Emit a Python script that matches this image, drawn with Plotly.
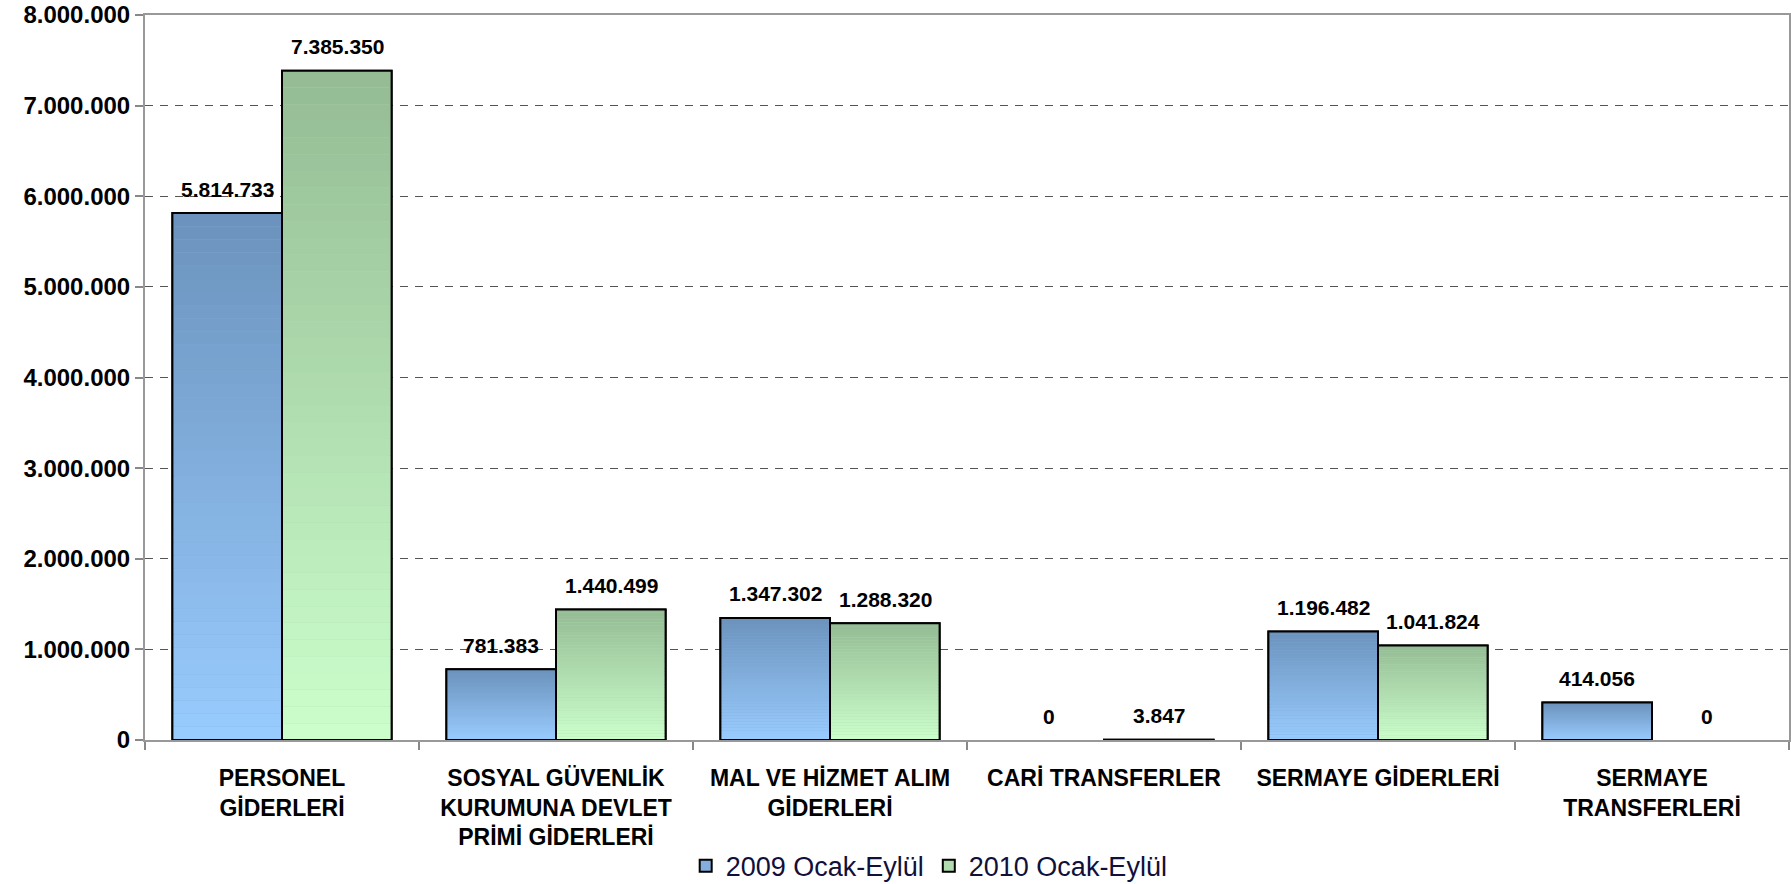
import plotly.graph_objects as go

categories = [
    "PERSONEL<br>GİDERLERİ",
    "SOSYAL GÜVENLİK<br>KURUMUNA DEVLET<br>PRİMİ GİDERLERİ",
    "MAL VE HİZMET ALIM<br>GİDERLERİ",
    "CARİ TRANSFERLER",
    "SERMAYE GİDERLERİ",
    "SERMAYE<br>TRANSFERLERİ",
]
values_2009 = [5814733, 781383, 1347302, 0, 1196482, 414056]
values_2010 = [7385350, 1440499, 1288320, 3847, 1041824, 0]
labels_2009 = ["5.814.733", "781.383", "1.347.302", "0", "1.196.482", "414.056"]
labels_2010 = ["7.385.350", "1.440.499", "1.288.320", "3.847", "1.041.824", "0"]
series_names = ["2009 Ocak-Eylül", "2010 Ocak-Eylül"]
y_ticks = [0, 1000000, 2000000, 3000000, 4000000, 5000000, 6000000, 7000000, 8000000]
y_tick_text = ["0", "1.000.000", "2.000.000", "3.000.000", "4.000.000",
               "5.000.000", "6.000.000", "7.000.000", "8.000.000"]

FONT = "Arial, Liberation Sans, sans-serif"
N_SEG = 40
BAR_W = 0.4

styles = [
    dict(values=values_2009, labels=labels_2009, name=series_names[0], offset=-BAR_W,
         top=(0x6b, 0x92, 0xbc), bottom=(0x99, 0xcc, 0xff), mid="#84aedd", xshift=-55),
    dict(values=values_2010, labels=labels_2010, name=series_names[1], offset=0.0,
         top=(0x94, 0xbb, 0x94), bottom=(0xcc, 0xff, 0xcc), mid="#b0dcb0", xshift=55),
]


def mix(a, b, t):
    return "rgb(%d,%d,%d)" % tuple(round(a[i] + (b[i] - a[i]) * t) for i in range(3))


fig = go.Figure()

for s in styles:
    vals = s["values"]
    # base trace (legend swatch + outline underneath)
    fig.add_trace(go.Bar(
        x=categories, y=[v if v != 0 else None for v in vals], name=s["name"],
        width=BAR_W, offset=s["offset"],
        marker=dict(color=s["mid"], line=dict(color="#000000", width=2)),
        hoverinfo="skip", showlegend=True,
    ))
    # vertical gradient made of stacked slices of each bar
    for k in range(N_SEG):
        t = 1 - (k + 0.5) / N_SEG  # bottom light -> top dark
        fig.add_trace(go.Bar(
            x=categories, y=[v / N_SEG for v in vals],
            base=[v * k / N_SEG for v in vals],
            width=BAR_W, offset=s["offset"],
            marker=dict(color=mix(s["top"], s["bottom"], t), line=dict(width=0)),
            hoverinfo="skip", showlegend=False,
        ))

for s in styles:
    vals = s["values"]
    fig.add_trace(go.Bar(
        x=categories, y=[v if v != 0 else None for v in vals],
        width=BAR_W, offset=s["offset"],
        marker=dict(color="rgba(0,0,0,0)", line=dict(color="#000000", width=2)),
        hoverinfo="skip", showlegend=False,
    ))

annotations = []
for s in styles:
    for c, v, lab in zip(categories, s["values"], s["labels"]):
        annotations.append(dict(
            x=c, y=v, xref="x", yref="y", text=lab, showarrow=False,
            xshift=s["xshift"], yshift=24, yanchor="middle", xanchor="center",
            font=dict(family=FONT, size=21, color="#000000", weight="bold"),
        ))

fig.update_layout(
    width=1791, height=884,
    margin=dict(l=145, r=2, t=15, b=144, autoexpand=False),
    barmode="overlay",
    plot_bgcolor="#ffffff", paper_bgcolor="#ffffff",
    annotations=annotations,
    showlegend=True,
    legend=dict(
        orientation="h", x=0.477, xanchor="center", y=-0.174, yanchor="middle",
        font=dict(family=FONT, size=27, color="#10103a"),
        itemwidth=30, traceorder="normal", bgcolor="rgba(0,0,0,0)",
    ),
    xaxis=dict(
        type="category", tickson="boundaries", ticks="outside", ticklen=8,
        tickcolor="#888888", tickwidth=2,
        showline=True, linecolor="#999999", linewidth=2, mirror=True,
        showgrid=False, automargin=False, ticklabelstandoff=16,
        tickfont=dict(family=FONT, size=23, color="#000000", weight="bold"),
        range=[-0.5, 5.5],
    ),
    yaxis=dict(
        range=[0, 8000000], tickvals=y_ticks, ticktext=y_tick_text,
        ticks="outside", ticklen=8, tickcolor="#888888", tickwidth=2,
        showline=True, linecolor="#999999", linewidth=2, mirror=True,
        showgrid=True, gridcolor="#555555", gridwidth=1, griddash="8px,7px",
        zeroline=False, automargin=False,
        tickfont=dict(family=FONT, size=24, color="#000000", weight="bold"),
    ),
)

fig.write_html("out.html", config={"displayModeBar": False},
               post_script="document.body.style.margin='0px';")
